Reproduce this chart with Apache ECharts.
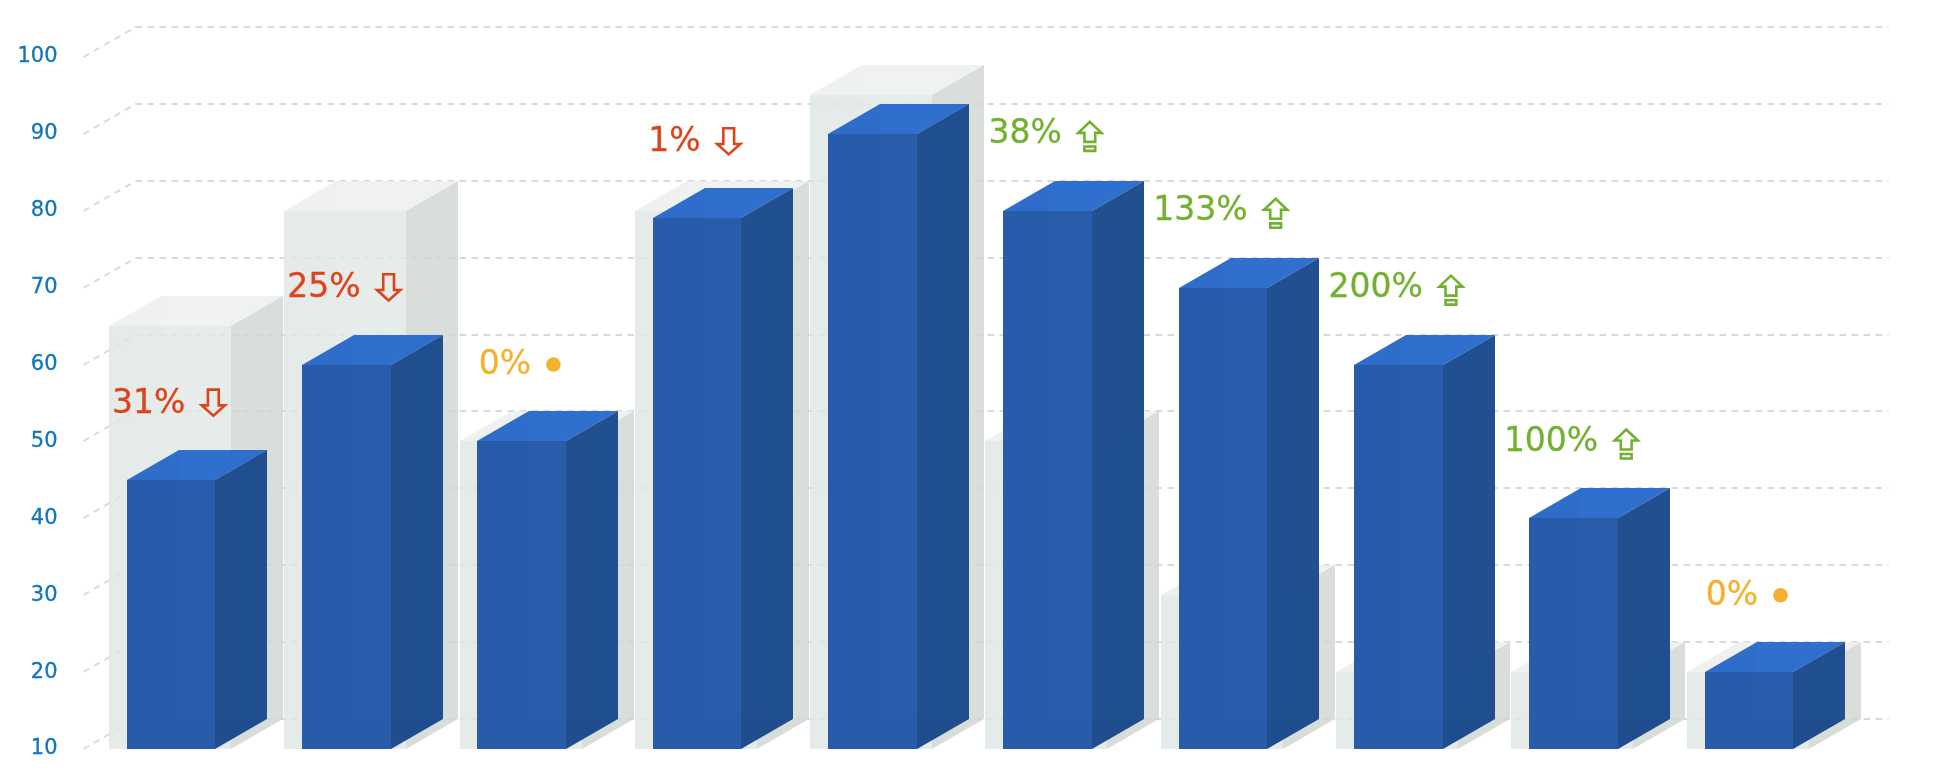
<!DOCTYPE html>
<html>
<head>
	<meta charset="utf-8">
	<script src="https://cdn.jsdelivr.net/npm/echarts@6/dist/echarts.min.js"></script>
</head>
<body style="margin:0;background:#fff;">
	<div id="main" style="width:1934px;height:772px;"></div>
	<script type="text/javascript">
	// values
	var categories = ['1', '2', '3', '4', '5', '6', '7', '8', '9', '10'];
	var previousValues = [65, 80, 50, 80, 95, 50, 30, 20, 20, 20];
	var currentValues = [45, 60, 50, 79, 90, 80, 70, 60, 40, 20];
	var changeLabels = ['31%', '25%', '0%', '1%', '', '38%', '133%', '200%', '100%', '0%'];
	var changeKinds = ['down', 'down', 'flat', 'down', '', 'up', 'up', 'up', 'up', 'flat'];
	var tickValues = [10, 20, 30, 40, 50, 60, 70, 80, 90, 100];

	var DEPTH_X = 52, DEPTH_Y = 30;
	var LABEL_LIFT = 10; // labels sit 10 units above their bar
	var FONT = '"DejaVu Sans", Verdana, sans-serif';
	var LABEL_SIZE = 33;
	var kindColor = {down: '#dd431b', up: '#72b12f', flat: '#f4b12d'};

	var ghostFaces = {front: 'rgba(224,231,228,0.8)', top: 'rgba(235,239,236,0.8)', side: 'rgba(207,214,209,0.8)', inner: 'rgba(0,0,0,0.005)'};
	var barFaces = {front: 'rgba(37,90,170,0.98)', top: 'rgba(43,108,204,0.98)', side: 'rgba(29,75,142,0.98)', inner: 'rgba(0,0,0,0.015)'};

	var measure = document.createElement('canvas').getContext('2d');
	measure.font = LABEL_SIZE + 'px ' + FONT;

	function poly(points, fill) {
		return {type: 'polygon', shape: {points: points}, style: {fill: fill}, silent: true};
	}

	// three visible faces of a box, plus the faint left and floor faces seen through it
	function box(api, widthShare, shift, faces) {
		var i = api.value(0);
		var top = api.coord([i, api.value(1)]);
		var base = api.coord([i, tickValues[0]]);
		var w = api.size([1, 0])[0] * widthShare;
		// whole pixels, otherwise the faces show a light seam where they meet
		var l = Math.round(top[0] + shift - w / 2), r = Math.round(top[0] + shift + w / 2);
		var t = Math.round(top[1]), b = Math.round(base[1]);
		return {
			type: 'group',
			children: [
				poly([[l, t], [r, t], [r, b], [l, b]], faces.front),
				poly([[l, t], [l + DEPTH_X, t - DEPTH_Y], [r + DEPTH_X, t - DEPTH_Y], [r, t]], faces.top),
				poly([[r, t], [r + DEPTH_X, t - DEPTH_Y], [r + DEPTH_X, b - DEPTH_Y], [r, b]], faces.side),
				poly([[l, t], [l + DEPTH_X, t - DEPTH_Y], [l + DEPTH_X, b - DEPTH_Y], [l, b]], faces.inner),
				poly([[l, b], [l + DEPTH_X, b - DEPTH_Y], [r + DEPTH_X, b - DEPTH_Y], [r, b]], faces.inner)
			]
		};
	}

	function arrowIcon(kind, cx, cy, color) {
		function shifted(list) {
			return list.map(function (p) { return [p[0] + cx, p[1] + cy]; });
		}
		function outline(list) {
			return {type: 'polygon', shape: {points: shifted(list)}, style: {fill: 'none', stroke: color, lineWidth: 2.6}, silent: true};
		}
		if (kind === 'down') {
			return [outline([[-5.4, -13.4], [5.4, -13.4], [5.4, 2.4], [11.6, 2.4], [0, 12.8], [-11.6, 2.4], [-5.4, 2.4]])];
		}
		if (kind === 'up') {
			return [
				outline([[0, -14], [11.6, -3], [5.4, -3], [5.4, 6], [-5.4, 6], [-5.4, -3], [-11.6, -3]]),
				outline([[-5.4, 10.6], [5.4, 10.6], [5.4, 15], [-5.4, 15]])
			];
		}
		return [{type: 'circle', shape: {cx: cx, cy: cy, r: 7.3}, style: {fill: color}, silent: true}];
	}

	var option = {
		animation: false,
		grid: {left: 83.5, right: 97.5, top: 57, bottom: 23},
		xAxis: {
			type: 'category',
			data: categories,
			show: false
		},
		yAxis: {
			type: 'value',
			min: 10,
			max: 100,
			interval: 10,
			axisLine: {show: false},
			axisTick: {show: false},
			splitLine: {show: false},
			axisLabel: {color: '#0f75bc', fontFamily: FONT, fontSize: 21, margin: 26, textBorderColor: '#0f75bc', textBorderWidth: 0.3, padding: [7, 0, 0, 0]}
		},
		series: [
			{
				// floor grid: diagonal then horizontal dashed line for each tick
				type: 'custom',
				data: tickValues.map(function (v) { return [0, v]; }),
				z: 1,
				renderItem: function (params, api) {
					var band = api.size([1, 0])[0];
					var start = api.coord([0, api.value(1)]);
					var x0 = start[0] - band / 2, y0 = Math.round(start[1]);
					var x1 = x0 + band * categories.length + DEPTH_X;
					return {
						type: 'polyline',
						shape: {points: [[x0, y0], [x0 + DEPTH_X, y0 - DEPTH_Y], [x1, y0 - DEPTH_Y]]},
						style: {fill: 'none', stroke: '#d9d9d9', lineWidth: 2, lineDash: [6.5, 5.5]},
						silent: true
					};
				}
			},
			{
				type: 'custom',
				data: previousValues.map(function (v, i) { return [i, v]; }),
				z: 2,
				renderItem: function (params, api) {
					return box(api, 0.696, -1.2, ghostFaces);
				}
			},
			{
				type: 'custom',
				data: currentValues.map(function (v, i) { return [i, v]; }),
				z: 3,
				renderItem: function (params, api) {
					return box(api, 0.505, 0, barFaces);
				}
			},
			{
				type: 'custom',
				data: currentValues.map(function (v, i) { return [i, v + LABEL_LIFT]; }),
				z: 4,
				renderItem: function (params, api) {
					var i = api.value(0);
					var text = changeLabels[i];
					if (!text) {
						return {type: 'group', children: []};
					}
					var kind = changeKinds[i];
					var color = kindColor[kind];
					var pos = api.coord([i, api.value(1)]);
					var iconW = kind === 'flat' ? 14.6 : 26;
					var gap = 15;
					var textW = measure.measureText(text).width;
					var left = pos[0] - 2 - (textW + gap + iconW) / 2;
					var iconY = kind === 'up' ? pos[1] + 2 : pos[1];
					return {
						type: 'group',
						children: [{
							type: 'text',
							style: {
								x: left,
								y: pos[1] + 1,
								text: text,
								fill: color,
								stroke: color,
								lineWidth: 0.3,
								font: LABEL_SIZE + 'px ' + FONT,
								textAlign: 'left',
								textVerticalAlign: 'middle'
							},
							silent: true
						}].concat(arrowIcon(kind, left + textW + gap + iconW / 2, iconY, color))
					};
				}
			}
		]
	};

	var myChart = echarts.init(document.getElementById('main'));
	myChart.setOption(option);
	</script>
</body>
</html>
